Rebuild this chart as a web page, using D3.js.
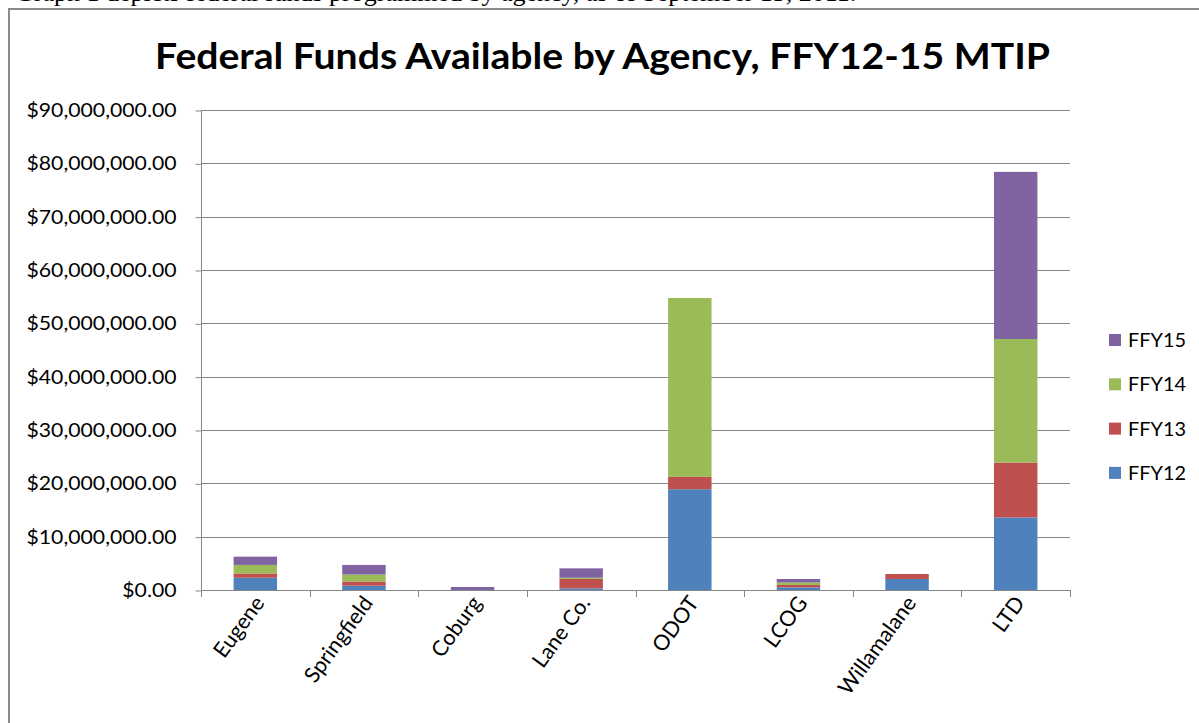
<!DOCTYPE html>
<html>
<head>
<meta charset="utf-8">
<script src="https://cdn.jsdelivr.net/npm/d3@7"></script>
<style>
  html, body { margin: 0; padding: 0; background: #fff; }
  svg { display: block; }
</style>
</head>
<body>
<svg id="chart" width="1199" height="723"></svg>
<script>
// ---- data ----
const categories = ["Eugene", "Springfield", "Coburg", "Lane Co.", "ODOT", "LCOG", "Willamalane", "LTD"];
const seriesNames = ["FFY12", "FFY13", "FFY14", "FFY15"];
const ffy12 = [2300000, 800000, 0, 300000, 18900000, 500000, 2060000, 13600000];
const ffy13 = [800000, 800000, 0, 1760000, 2300000, 440000, 940000, 10300000];
const ffy14 = [1600000, 1300000, 0, 240000, 33550000, 460000, 0, 23160000];
const ffy15 = [1550000, 1800000, 560000, 1760000, 0, 660000, 0, 31340000];
const yTicks = [0, 10000000, 20000000, 30000000, 40000000, 50000000, 60000000, 70000000, 80000000, 90000000];
const colors = ["#4F81BD", "#C0504D", "#9BBB59", "#8064A2"];

const titleText = "Federal Funds Available by Agency, FFY12-15 MTIP";
const captionText = "Graph 1 depicts federal funds programmed by agency, as of September 13, 2011.";

// ---- build ----
const table = categories.map((c, i) => ({
  cat: c, FFY12: ffy12[i], FFY13: ffy13[i], FFY14: ffy14[i], FFY15: ffy15[i]
}));
const stacked = d3.stack().keys(seriesNames)(table);

const svg = d3.select("#chart");
const font = "Lato, 'Open Sans', sans-serif";

// caption text (cut off at the top of the page, as in the reference)
svg.append("text")
  .attr("x", 15).attr("y", 1)
  .attr("font-family", "'Liberation Serif', 'Times New Roman', serif")
  .attr("font-size", 26)
  .attr("fill", "#000")
  .text(captionText);

// chart frame
svg.append("rect")
  .attr("x", 9).attr("y", 9)
  .attr("width", 1260).attr("height", 800)
  .attr("fill", "#fff")
  .attr("stroke", "#8a8a8a").attr("stroke-width", 2);

const plot = { left: 201, right: 1070, top: 110, bottom: 590 };

const x = d3.scaleBand().domain(categories)
  .range([plot.left, plot.right])
  .paddingInner(0.6).paddingOuter(0.3);
const y = d3.scaleLinear().domain([0, 90000000]).range([plot.bottom, plot.top]);

// gridlines
svg.append("g").selectAll("line").data(yTicks).join("line")
  .attr("x1", plot.left).attr("x2", plot.right)
  .attr("y1", d => Math.round(y(d)) + 0.5).attr("y2", d => Math.round(y(d)) + 0.5)
  .attr("stroke", "#878787").attr("stroke-width", 1);

// bars
svg.append("g").selectAll("g").data(stacked).join("g")
  .attr("fill", (d, i) => colors[i])
  .selectAll("rect").data(d => d).join("rect")
  .attr("x", d => x(d.data.cat))
  .attr("width", x.bandwidth())
  .attr("y", d => y(d[1]))
  .attr("height", d => Math.max(0, y(d[0]) - y(d[1])));

// y axis
const yAxis = d3.axisLeft(y).tickValues(yTicks)
  .tickFormat(d => "$" + d3.format(",.2f")(d))
  .tickSize(6).tickPadding(19);
const gy = svg.append("g").attr("transform", `translate(${plot.left + 0.5},0.5)`).call(yAxis);
gy.select(".domain").attr("stroke", "#878787").attr("d", `M0,${plot.top}V${plot.bottom}`);
gy.selectAll(".tick line").attr("stroke", "#878787");
const tickTexts = gy.selectAll(".tick text")
  .attr("font-family", font).attr("font-size", 18.5).attr("fill", "#000");

// horizontal stretch so that the widest label spans like the reference
let maxW = 0;
tickTexts.each(function () { maxW = Math.max(maxW, this.getComputedTextLength()); });
const k = maxW > 0 ? 150 / maxW : 1;
tickTexts.each(function () {
  const w = this.getComputedTextLength();
  d3.select(this).attr("textLength", w * k).attr("lengthAdjust", "spacingAndGlyphs");
});

// x axis
const step = x.step();
const boundaries = d3.range(categories.length + 1).map(i => plot.left + i * step);
svg.append("g").selectAll("line").data(boundaries).join("line")
  .attr("x1", d => Math.round(d) + 0.5).attr("x2", d => Math.round(d) + 0.5)
  .attr("y1", plot.bottom).attr("y2", plot.bottom + 7)
  .attr("stroke", "#878787");
svg.append("line")
  .attr("x1", plot.left).attr("x2", plot.right)
  .attr("y1", plot.bottom + 0.5).attr("y2", plot.bottom + 0.5)
  .attr("stroke", "#878787");

svg.append("g").selectAll("text").data(categories).join("text")
  .attr("transform", d => `translate(${x(d) + x.bandwidth() / 2 + 10},${plot.bottom + 13}) rotate(-54)`)
  .attr("text-anchor", "end")
  .attr("font-family", font).attr("font-size", 21.5).attr("fill", "#000")
  .text(d => d);

// title
svg.append("text")
  .attr("x", 155).attr("y", 69)
  .attr("textLength", 895).attr("lengthAdjust", "spacingAndGlyphs")
  .attr("font-family", font).attr("font-weight", "bold")
  .attr("font-size", 36).attr("fill", "#000")
  .text(titleText);

// legend
const legendNames = seriesNames.slice().reverse();
const legendColors = colors.slice().reverse();
const lg = svg.append("g").selectAll("g").data(legendNames).join("g")
  .attr("transform", (d, i) => `translate(1109,${340 + i * 44.3})`);
lg.append("rect").attr("x", 0).attr("y", -6).attr("width", 12).attr("height", 12)
  .attr("fill", (d, i) => legendColors[i]);
lg.append("text").attr("x", 19).attr("y", 7)
  .attr("font-family", font).attr("font-size", 18.5).attr("fill", "#000")
  .text(d => d)
  .each(function () {
    const w = this.getComputedTextLength();
    d3.select(this).attr("textLength", Math.min(w * k, 58)).attr("lengthAdjust", "spacingAndGlyphs");
  });
</script>
</body>
</html>
